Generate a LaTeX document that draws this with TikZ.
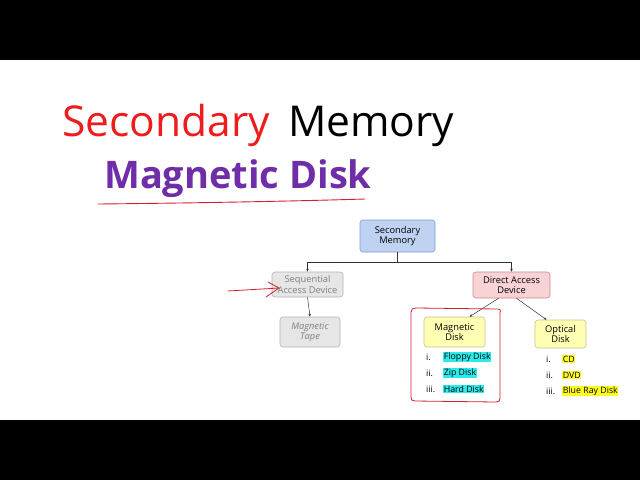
\documentclass[tikz,border=0pt]{standalone}
\usepackage{fontspec}
\setmainfont{Open Sans}
\usetikzlibrary{arrows.meta,calc}
\definecolor{titlered}{HTML}{EE1C1C}
\definecolor{purp}{HTML}{6F2DA8}
\definecolor{pen}{HTML}{D02030}
\definecolor{bluefill}{HTML}{BFD2F2}
\definecolor{blueline}{HTML}{7E9CCB}
\definecolor{grayfill}{HTML}{E6E6E6}
\definecolor{grayline}{HTML}{B4B4B4}
\definecolor{graytext}{HTML}{808080}
\definecolor{pinkfill}{HTML}{F8D3D6}
\definecolor{pinkline}{HTML}{C98A8E}
\definecolor{yelfill}{HTML}{FFFFB4}
\definecolor{yelline}{HTML}{C9C28A}
\definecolor{cyanhl}{HTML}{2EEAEA}
\definecolor{yelhl}{HTML}{FFFF22}
\tikzset{
  box/.style={draw, rounded corners=3pt, line width=0.6pt, align=center, font=\fontsize{9.3}{10.5}\selectfont, inner sep=1pt},
  bluebox/.style={box, fill=bluefill, draw=blueline, minimum width=75pt, minimum height=32pt},
  graybox/.style={box, fill=grayfill, draw=grayline, text=graytext},
  pinkbox/.style={box, fill=pinkfill, draw=pinkline, minimum width=77pt, minimum height=26pt},
  yelbox/.style={box, fill=yelfill, draw=yelline},
  conn/.style={line width=0.5pt, draw=black!80},
  tip/.style={-{Stealth[length=3pt,width=2.5pt]}},
  item/.style={font=\fontsize{8.8}{10}\selectfont, inner sep=0.6pt, anchor=west},
  num/.style={font=\fontsize{8.8}{10}\selectfont, inner sep=0pt, anchor=west},
  redpen/.style={draw=pen, line width=0.8pt, line cap=round, line join=round},
  bar/.style={fill=black, draw=none}
}
\begin{document}
\begin{tikzpicture}[x=1pt,y=-1pt]
\useasboundingbox (0,0) rectangle (640,480);
\fill[white] (0,0) rectangle (640,480);
\path[bar] (0,0) rectangle (640,60);
\path[bar] (0,420) rectangle (640,480);

% Titles
\node[anchor=base west, inner sep=0pt, text=titlered, font=\fontsize{42.5}{46}\selectfont] (t1) at (62,136) {Secondary};
\node[anchor=base west, inner sep=0pt, text=black, font=\fontsize{42.5}{46}\selectfont] (t2) at (288,136) {Memory};
\node[anchor=base west, inner sep=0pt, text=purp, font=\fontsize{38}{42}\selectfont\bfseries] (t3) at (104,188) {Magnetic Disk};
\draw[redpen, line width=0.9pt] (98,204) .. controls (200,203) and (300,201) .. (365,199);

% Boxes
\node[bluebox] (sm) at (397.5,236) {Secondary\\Memory};
\node[graybox, minimum width=71pt, minimum height=25pt] (sa) at (307.5,284.5) {Sequential\\Access Device};
\node[graybox, minimum width=60pt, minimum height=30pt, font=\fontsize{9.3}{10.5}\selectfont\itshape] (mt) at (310,332) {Magnetic\\Tape};
\node[pinkbox] (da) at (511.5,285) {Direct Access\\Device};
\node[yelbox, minimum width=61pt, minimum height=30pt] (md) at (454.5,332) {Magnetic\\Disk};
\node[yelbox, minimum width=51pt, minimum height=28pt] (od) at (560.5,334) {Optical\\Disk};

% Connectors
\coordinate (j) at (397.5,262);
\draw[conn] (sm.south) -- (j);
\draw[conn, tip] (j) -| (sa.north);
\draw[conn, tip] (j) -| (da.north);
\draw[conn, tip] (sa.south) -- (mt.north);
\draw[conn, tip] ($(da.south)+(-13,0)$) -- ($(md.north)+(15,0)$);
\draw[conn, tip] ($(da.south)+(5,0)$) -- ($(od.north)+(-14,0)$);

% Lists
\node[num] (m1n) at (426,357) {i.};
\node[num] (m2n) at (426,373) {ii.};
\node[num] (m3n) at (426,389) {iii.};
\node[item, fill=cyanhl] (m1) at (443,357) {Floppy Disk};
\node[item, fill=cyanhl] (m2) at (443,373) {Zip Disk};
\node[item, fill=cyanhl] (m3) at (443,389) {Hard Disk};

\node[num] (o1n) at (546,359) {i.};
\node[num] (o2n) at (546,375) {ii.};
\node[num] (o3n) at (546,391) {iii.};
\node[item, fill=yelhl] (o1) at (562,359) {CD};
\node[item, fill=yelhl] (o2) at (562,375) {DVD};
\node[item, fill=yelhl] (o3) at (562,391) {Blue Ray Disk};

% Hand-drawn annotations
\draw[redpen] (411,312) .. controls (411,309) and (413,308) .. (416,308) -- (498,309) .. controls (500,309) and (501,310) .. (500,313)
  -- (500,398) .. controls (500,401) and (499,402) .. (496,402) -- (415,401) .. controls (412,401) and (411,400) .. (411,397) -- cycle;
\coordinate (ra) at (228,291);
\coordinate (rb) at (279,288);
\draw[redpen] (ra) -- (rb);
\draw[redpen] (268,282) -- (rb) -- (266,297);
\end{tikzpicture}
\end{document}
